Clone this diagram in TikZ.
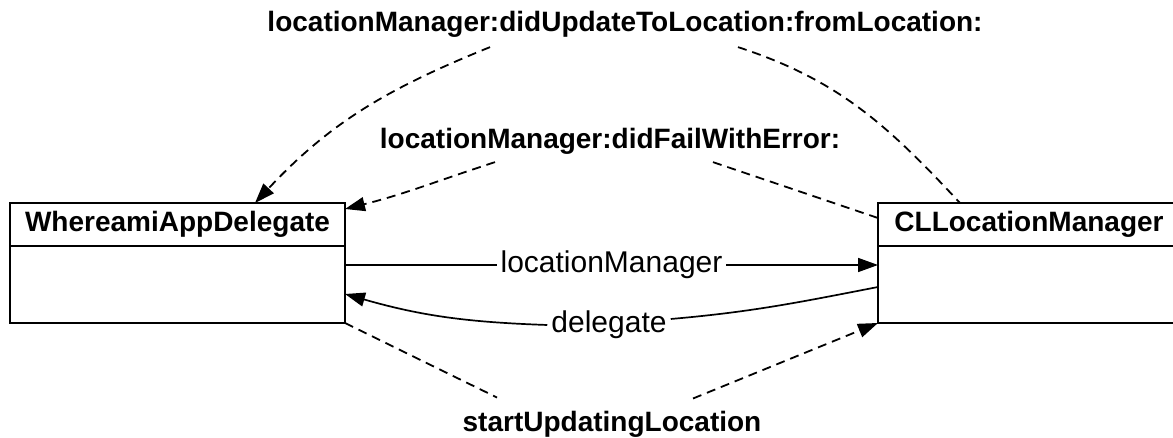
\documentclass[tikz,border=0pt]{standalone}
\usepackage{fontspec}
\setmainfont{Liberation Sans}
\usetikzlibrary{arrows.meta}
\usetikzlibrary{positioning}

\tikzset{
  classhead/.style={draw,line width=1.7pt,outer sep=0pt,inner sep=0pt,minimum height=43pt,font=\fontsize{28}{32}\selectfont\bfseries},
  classbody/.style={draw,line width=1.7pt,outer sep=0pt,inner sep=0pt,minimum height=77pt},
  methodlbl/.style={inner sep=0pt,font=\fontsize{28}{32}\selectfont\bfseries},
  proplbl/.style={inner sep=4pt,font=\fontsize{30}{34}\selectfont},
  arrowtip/.style={-{Triangle[length=20pt,width=14pt]}},
  propline/.style={line width=1.7pt},
  callline/.style={line width=1.8pt,dash pattern=on 9pt off 6pt},
}

\begin{document}
\begin{tikzpicture}[x=1pt,y=1pt]
\useasboundingbox (0,0) rectangle (1173,438);

\node[classhead,minimum width=335pt] (wadhead) at (177.5,213.5) {WhereamiAppDelegate};
\node[classbody,minimum width=335pt,below=0pt of wadhead] (wadbody) {};
\node[classhead,minimum width=302pt] (clmhead) at (1029,213.5) {CLLocationManager};
\node[classbody,minimum width=302pt,below=0pt of clmhead] (clmbody) {};

\node[methodlbl,anchor=base] (lupd) at (625,406) {locationManager:didUpdateToLocation:fromLocation:};
\node[methodlbl,anchor=base] (lfail) at (610,289) {locationManager:didFailWithError:};
\node[methodlbl,anchor=base] (lstart) at (612,6) {startUpdatingLocation};

% properties
\draw[propline,arrowtip] ([yshift=-19pt]wadbody.north east) -- node[proplbl,fill=white] (lmgr) {locationManager} ([yshift=-19pt]clmbody.north west);
\node[proplbl] (ldel) at (609,113) {delegate};
\draw[propline] ([yshift=-41pt]clmbody.north west) to[out=191,in=5] ([yshift=6pt]ldel.east);
\draw[propline,arrowtip] (ldel.west) to[out=178,in=-16] ([yshift=-48pt]wadbody.north east);

% messages
\draw[callline,arrowtip] ([xshift=-135pt,yshift=-9pt]lupd.south) to[out=202,in=47] ([xshift=245pt]wadhead.north west);
\draw[callline] ([xshift=113pt,yshift=-9pt]lupd.south) to[out=-18,in=133] ([xshift=82pt]clmhead.north west);
\draw[callline,arrowtip] ([xshift=-115pt,yshift=-7pt]lfail.south) to[out=198,in=14] ([yshift=-6pt]wadhead.north east);
\draw[callline] ([xshift=103pt,yshift=-7pt]lfail.south) -- ([yshift=-15pt]clmhead.north west);
\draw[callline] (wadbody.south east) -- ([xshift=-115pt,yshift=14pt]lstart.north);
\draw[callline,arrowtip] ([xshift=81pt,yshift=13pt]lstart.north) -- (clmbody.south west);

\end{tikzpicture}
\end{document}
